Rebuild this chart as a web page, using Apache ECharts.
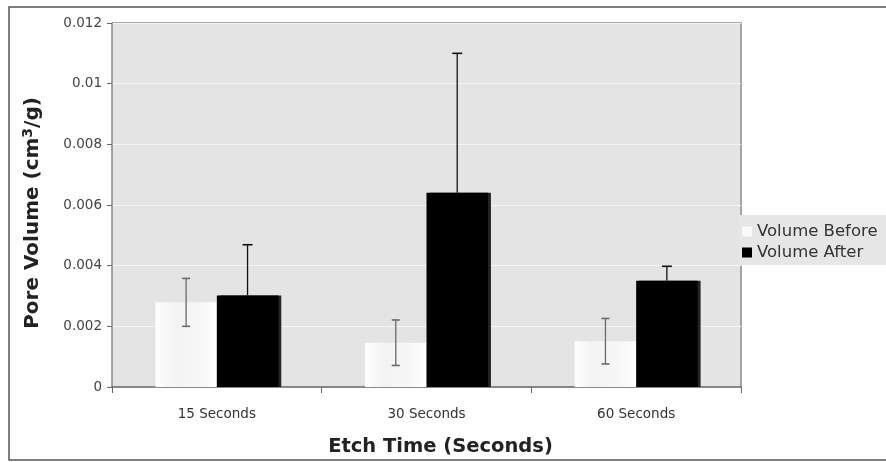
<!DOCTYPE html>
<html>
<head>
<meta charset="utf-8">
<script src="https://cdn.jsdelivr.net/npm/echarts@6/dist/echarts.min.js"></script>
<style>html,body{margin:0;padding:0;background:#fff}#c{width:886px;height:462px}</style>
</head>
<body>
<div id="c"></div>
<script>
const categories = ['15 Seconds', '30 Seconds', '60 Seconds'];
const volumeBefore = [0.00279, 0.00146, 0.00151];
const volumeBeforeErr = [0.00079, 0.00075, 0.00075];
const volumeAfter = [0.00302, 0.0064, 0.0035];
const volumeAfterErr = [0.00167, 0.0046, 0.00048];
const yTicks = { min: 0, max: 0.012, interval: 0.002 };

const BAR_FRAC = 0.293;
const FONT = 'DejaVu Sans';

function errRenderer(side, both, color, cap) {
  return function (params, api) {
    const i = api.value(0), v = api.value(1), e = api.value(2);
    const bw = api.size([1, 0])[0];
    const base = api.coord([i, v]);
    const x = base[0] + side * bw * BAR_FRAC / 2;
    const top = api.coord([i, v + e])[1];
    const bot = both ? api.coord([i, v - e])[1] : base[1];
    const style = { stroke: color, lineWidth: 1.3 };
    const children = [
      { type: 'line', shape: { x1: x, y1: top, x2: x, y2: bot }, style },
      { type: 'line', shape: { x1: x - cap / 2, y1: top, x2: x + cap / 2, y2: top }, style: { stroke: color, lineWidth: 1.6 } }
    ];
    if (both) children.push({ type: 'line', shape: { x1: x - cap / 2, y1: bot, x2: x + cap / 2, y2: bot }, style: { stroke: color, lineWidth: 1.6 } });
    return { type: 'group', children };
  };
}

const chart = echarts.init(document.getElementById('c'));
chart.setOption({
  animation: false,
  backgroundColor: '#ffffff',
  textStyle: { fontFamily: FONT },
  graphic: [
    { type: 'rect', z: -10, shape: { x: 9, y: 7, width: 900, height: 453 }, style: { fill: 'none', stroke: '#555', lineWidth: 1.5 } },
    { type: 'rect', z: -9, shape: { x: 112, y: 23, width: 629, height: 364 }, style: { fill: '#e4e4e4' } },
    { type: 'polyline', z: -8, shape: { points: [[112, 23], [741, 23], [741, 387]] }, style: { fill: 'none', stroke: '#8a8a8a', lineWidth: 1.5 } }
  ],
  grid: { left: 112, right: 145, top: 23, bottom: 75, containLabel: false },
  legend: {
    orient: 'vertical',
    left: 738, top: 215,
    backgroundColor: '#e6e6e6',
    padding: [8, 30, 4, 4],
    itemWidth: 10, itemHeight: 10, itemGap: 4,
    icon: 'rect',
    textStyle: { fontFamily: FONT, fontSize: 16.5, color: '#333', lineHeight: 15 },
    data: [
      { name: 'Volume Before', itemStyle: { color: '#fafafa' } },
      { name: 'Volume After', itemStyle: { color: '#000' } }
    ]
  },
  xAxis: {
    type: 'category',
    data: categories,
    axisLine: { lineStyle: { color: '#666', width: 1.5 } },
    axisTick: { show: true, length: 6, lineStyle: { color: '#666' } },
    axisLabel: { fontFamily: FONT, fontSize: 13.5, color: '#333', margin: 20 },
    name: 'Etch Time (Seconds)',
    nameLocation: 'middle',
    nameGap: 50,
    nameTextStyle: { fontFamily: FONT, fontSize: 19.5, fontWeight: 'bold', color: '#222', padding: [0, 0, 0, 28] }
  },
  yAxis: {
    type: 'value',
    min: yTicks.min, max: yTicks.max, interval: yTicks.interval,
    axisLine: { show: true, lineStyle: { color: '#888', width: 1.5 } },
    axisTick: { show: true, length: 5, lineStyle: { color: '#666' } },
    axisLabel: { fontFamily: FONT, fontSize: 13.5, color: '#444', margin: 10 },
    splitLine: { lineStyle: { color: '#f4f4f4', width: 1.2 } },
    name: '{a|Pore Volume (cm}{s|3}{a|/g)}',
    nameLocation: 'middle',
    nameGap: 67,
    nameTextStyle: {
      rich: {
        a: { fontFamily: FONT, fontSize: 20, fontWeight: 'bold', color: '#222' },
        s: { fontFamily: FONT, fontSize: 14, fontWeight: 'bold', color: '#222', verticalAlign: 'top', padding: [0, 0, 10, 0] }
      },
      padding: [0, 0, 0, -16]
    }
  },
  series: [
    {
      name: 'Volume Before', type: 'bar', data: volumeBefore,
      barWidth: (BAR_FRAC * 100) + '%', barGap: '0%',
      itemStyle: {
        color: new echarts.graphic.LinearGradient(0, 0, 1, 0, [
          { offset: 0, color: '#ffffff' },
          { offset: 0.3, color: '#f3f3f3' },
          { offset: 0.7, color: '#f6f6f6' },
          { offset: 1, color: '#ffffff' }
        ])
      }
    },
    {
      name: 'Volume After', type: 'bar', data: volumeAfter,
      barWidth: (BAR_FRAC * 100) + '%', barGap: '0%',
      itemStyle: { color: '#000', shadowColor: '#222', shadowOffsetX: 3, shadowOffsetY: 0, shadowBlur: 0 }
    },
    {
      type: 'custom', z: 5, silent: true,
      data: volumeBefore.map((v, i) => [i, v, volumeBeforeErr[i]]),
      renderItem: errRenderer(-1, true, '#6a6a6a', 8)
    },
    {
      type: 'custom', z: 5, silent: true,
      data: volumeAfter.map((v, i) => [i, v, volumeAfterErr[i]]),
      renderItem: errRenderer(1, false, '#111', 10)
    }
  ]
});
</script>
</body>
</html>
